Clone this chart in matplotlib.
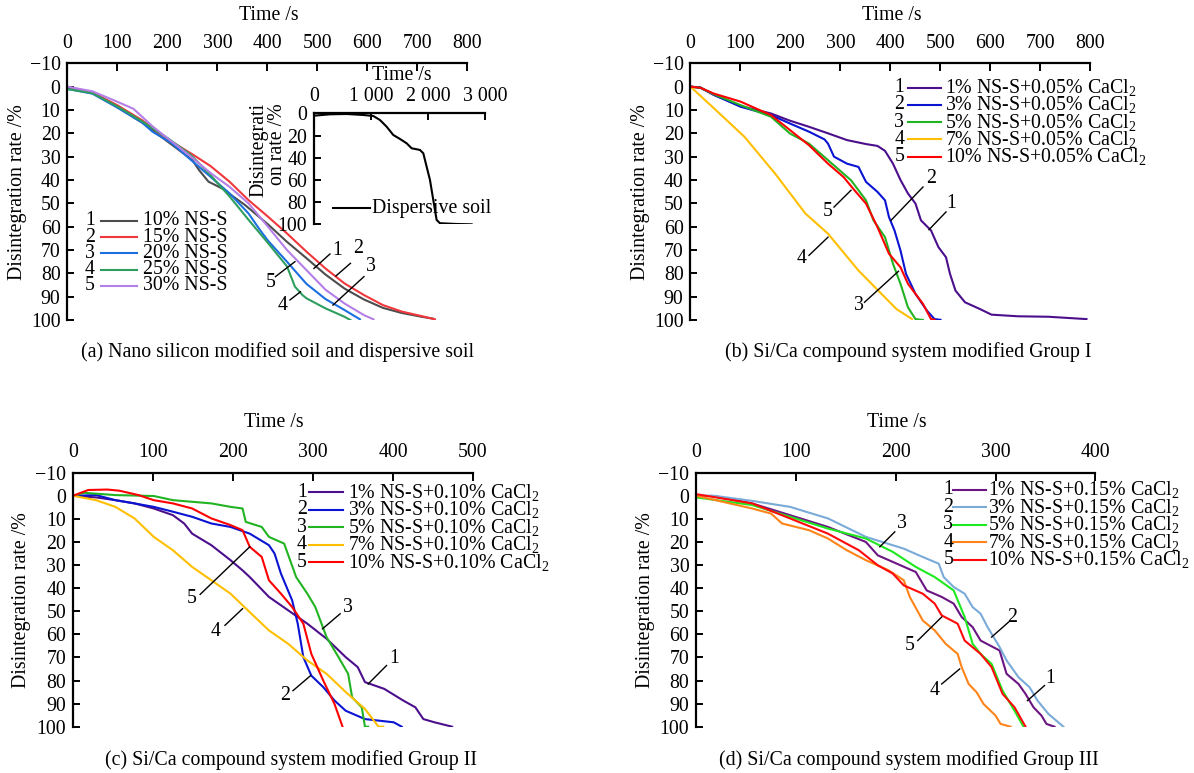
import matplotlib
matplotlib.use("Agg")
import matplotlib.pyplot as plt

plt.rcParams['font.family'] = ['Liberation Serif', 'DejaVu Serif']
plt.rcParams['mathtext.fontset'] = 'custom'
plt.rcParams['mathtext.rm'] = 'Liberation Serif'
plt.rcParams['mathtext.it'] = 'Liberation Serif:italic'
plt.rcParams['axes.unicode_minus'] = True

FS = 14.3

# ---------------- (a) nano silicon modified soil ----------------
a_labels = ["10% NS-S", "15% NS-S", "20% NS-S", "25% NS-S", "30% NS-S"]
a_colors = ["#4d4d4d", "#f0383c", "#1c6fe0", "#2e9e5e", "#b47fe6"]
a1_t = [0, 50, 100, 150, 200, 250, 263, 282, 309, 355, 401, 439, 478, 516, 554, 593, 631, 669, 708, 731]
a1_r = [0.5, 2.8, 8.8, 15.5, 23.5, 31.5, 35.7, 40.7, 43.6, 50.7, 59, 66.5, 73.5, 80.5, 86.5, 91.2, 94.8, 97, 98.6, 99.4]
a2_t = [0, 50, 100, 150, 200, 250, 286, 324, 362, 401, 439, 478, 516, 554, 593, 631, 669, 708, 735]
a2_r = [0, 2.5, 8, 14.5, 22.5, 29, 34, 40.7, 48.6, 55.7, 62.9, 70.7, 77.9, 84.3, 89.3, 93.6, 96.4, 98.3, 99.7]
a3_t = [0, 50, 100, 150, 170, 209, 247, 286, 324, 362, 385, 401, 439, 478, 516, 554, 585]
a3_r = [1, 3, 9, 15.5, 19.3, 24.3, 31.4, 38.6, 45.7, 54.3, 61.4, 66, 75, 84.5, 91, 95.7, 99.7]
a4_t = [0, 50, 100, 150, 200, 247, 286, 324, 362, 401, 439, 455, 470, 478, 516, 554, 566]
a4_r = [1, 2.8, 8.5, 15, 22, 29.3, 37.9, 47, 57, 67, 77, 85.7, 89.3, 90.7, 95, 98.6, 100]
a5_t = [0, 50, 100, 132, 170, 209, 247, 286, 324, 362, 401, 439, 478, 516, 554, 593, 612]
a5_r = [0, 2, 6.5, 9.5, 17, 23.6, 30, 37, 42.9, 50, 60, 70, 78.6, 87, 92.9, 97.9, 99.7]

# inset: dispersive soil
ds_t = [0, 275, 568, 861, 1037, 1154, 1271, 1388, 1506, 1623, 1711, 1857, 1916, 1974, 2033, 2091, 2150, 2208, 2501, 2765]
ds_r = [2.1, 0.9, 0.6, 1.5, 2.4, 6, 12, 19.5, 23.1, 27, 31.5, 33, 36, 48, 60, 78, 96, 99, 99.7, 100]

# ---------------- (b) Si/Ca group I ----------------
b_labels = ["1% NS-S+0.05% CaCl$_2$", "3% NS-S+0.05% CaCl$_2$", "5% NS-S+0.05% CaCl$_2$",
            "7% NS-S+0.05% CaCl$_2$", "10% NS-S+0.05% CaCl$_2$"]
bc_colors = ["#4b0f8c", "#0a14d2", "#22b322", "#ffbf00", "#ff0000"]
b1_t = [0, 20, 47, 100, 161, 199, 237, 275, 313, 351, 374, 389, 405, 420, 435, 450, 461, 481, 496, 511, 519, 530, 549, 579, 602, 655, 716, 792]
b1_r = [0, 0.3, 3.6, 8.3, 11.5, 14.6, 17.2, 20, 22.9, 24.6, 25.4, 27.5, 33, 40, 45.8, 50.1, 57.3, 61.6, 68.8, 73.1, 80.2, 87.4, 92.4, 95.3, 97.7, 98.4, 98.6, 99.6]
b2_t = [0, 20, 47, 100, 161, 199, 237, 268, 275, 287, 313, 336, 351, 374, 389, 397, 408, 420, 431, 450, 473, 488, 500]
b2_r = [0, 0.5, 3.5, 8.6, 12.2, 15.8, 19.3, 22.6, 24.4, 30, 33, 34.4, 40.8, 45.1, 48.7, 55.9, 61.6, 70.2, 80.2, 88.8, 96, 99.6, 99.9]
b3_t = [0, 20, 47, 100, 161, 199, 237, 275, 298, 321, 351, 366, 389, 405, 420, 435, 450, 465]
b3_r = [0, 0.5, 3.3, 7.9, 12.9, 20.1, 24.4, 31.5, 35.8, 40.1, 48.7, 57.3, 64.5, 75.9, 84.5, 94.6, 99.6, 100]
b4_t = [0, 47, 108, 169, 230, 275, 336, 382, 412, 443]
b4_r = [0, 9.3, 21.5, 37.2, 54.4, 63, 78.8, 88.8, 95.3, 99.6]
b5_t = [0, 20, 47, 100, 161, 199, 237, 275, 306, 328, 351, 374, 397, 420, 435, 465, 481, 488]
b5_r = [0, 0.5, 3, 6.4, 12.2, 18.6, 25.1, 33, 38.7, 44.4, 50.1, 60.2, 71.6, 77.4, 84.5, 93.1, 99.6, 99.9]

# ---------------- (c) Si/Ca group II ----------------
c_labels = ["1% NS-S+0.10% CaCl$_2$", "3% NS-S+0.10% CaCl$_2$", "5% NS-S+0.10% CaCl$_2$",
            "7% NS-S+0.10% CaCl$_2$", "10% NS-S+0.10% CaCl$_2$"]
c1_t = [0, 29, 53, 77, 101, 125, 139, 149, 173, 197, 212, 221, 245, 269, 293, 317, 341, 356, 365, 389, 413, 428, 438, 452, 474]
c1_r = [0, 0.7, 1.9, 3.3, 5.5, 8.4, 12, 16.4, 21.4, 27.9, 32.3, 35.2, 43.8, 49.6, 55.4, 61.9, 69.9, 74.2, 80.7, 83.6, 88.7, 91.6, 96.7, 98.1, 100]
c2_t = [0, 29, 53, 77, 101, 125, 149, 173, 197, 221, 245, 252, 260, 274, 281, 288, 298, 313, 327, 341, 365, 401, 411]
c2_r = [0, -0.3, 1.9, 3.3, 4.8, 6.9, 9.1, 12, 13.5, 16.4, 21.4, 25, 33.7, 45.3, 55.4, 69.9, 77.9, 82.9, 88.7, 93.1, 96.7, 98.1, 100]
c3_t = [0, 14, 53, 101, 125, 149, 173, 197, 212, 216, 236, 245, 264, 279, 293, 303, 317, 332, 344, 349, 361, 365, 369]
c3_r = [0, -1.3, -0.3, 0.1, 1.9, 2.6, 3.3, 4.8, 5.5, 11.3, 13.5, 17.8, 20.7, 35.2, 42.4, 48.2, 61.2, 69.9, 77.1, 87.3, 91.6, 100, 100]
c4_t = [0, 29, 53, 77, 101, 125, 149, 173, 197, 221, 245, 269, 293, 317, 341, 365, 382, 388]
c4_r = [0, 1.9, 4.8, 9.8, 17.8, 23.6, 30.8, 36.6, 42.4, 50.4, 58.3, 64.1, 71.3, 77.1, 85, 92.3, 100, 100]
c5_t = [0, 19, 43, 58, 82, 101, 125, 149, 173, 197, 212, 221, 236, 245, 260, 274, 288, 298, 313, 327, 337]
c5_r = [0, -2.5, -2.7, -2.2, -0.3, 1.9, 3.3, 5.5, 9.8, 12.7, 14.9, 22.1, 26.5, 36.6, 42.4, 48.2, 55.4, 68.5, 80.1, 90.2, 100]

# ---------------- (d) Si/Ca group III ----------------
d_labels = ["1% NS-S+0.15% CaCl$_2$", "3% NS-S+0.15% CaCl$_2$", "5% NS-S+0.15% CaCl$_2$",
            "7% NS-S+0.15% CaCl$_2$", "10% NS-S+0.15% CaCl$_2$"]
d_colors = ["#6b1582", "#7aaad8", "#1ee81e", "#ff8418", "#ff0a0a"]
d1_t = [0, 18, 56, 94, 132, 170, 182, 201, 220, 231, 246, 258, 266, 277, 285, 304, 311, 323, 330, 338, 346, 351, 359]
d1_r = [0, 0.1, 3.3, 8.4, 13.5, 20, 25.8, 29.4, 33, 41, 43.8, 46.7, 52.5, 56.9, 62.7, 67, 77.1, 81.5, 85.8, 91.6, 95.2, 98.8, 100]
d2_t = [0, 18, 56, 94, 132, 170, 208, 227, 243, 248, 258, 269, 277, 285, 292, 304, 311, 323, 334, 342, 353, 368]
d2_r = [0, 0, 2.2, 4.8, 9.8, 17.8, 22.9, 26.5, 29.4, 35.2, 39.5, 42.4, 48.2, 51.1, 56.9, 65.5, 71.3, 78.6, 82.9, 88.7, 94.5, 100]
d3_t = [0, 56, 94, 132, 170, 197, 220, 239, 258, 269, 277, 285, 296, 307, 319, 328]
d3_r = [0.7, 4, 9.1, 14.2, 18.5, 24.3, 30.8, 35.2, 41, 52.5, 64.1, 68.5, 72.8, 84.4, 93.1, 100]
d4_t = [0, 56, 75, 86, 113, 132, 151, 170, 193, 208, 214, 227, 239, 250, 262, 266, 273, 281, 288, 300, 305, 315]
d4_r = [0, 5.5, 7.7, 12, 14.9, 18.5, 23.6, 27.9, 32.3, 36.6, 43.8, 54, 58.3, 64.1, 68.5, 74.2, 81.5, 85.1, 90.2, 95.2, 98.8, 100]
d5_t = [0, 56, 94, 132, 163, 182, 197, 208, 227, 239, 246, 262, 269, 285, 296, 307, 319, 330]
d5_r = [-0.7, 3.3, 9.8, 16.4, 23.6, 30.1, 33.7, 38.8, 42.4, 46.7, 51.8, 55.4, 62.7, 68.5, 74.2, 85.8, 91.6, 100]

# curve call-outs: (number, leader start, leader end, label position) in data units
a_notes = [("1", (493, 77.9), (525, 71.7), (539, 70)), ("2", (537, 81.1), (566, 75.7), (581, 69.3)),
           ("3", (531, 93.6), (593, 81.4), (607, 77.1)), ("5", (416, 81.4), (455, 75), (406, 83.9)),
           ("4", (445, 91.4), (466, 87.9), (431, 93.6))]
b_notes = [("2", (401, 57.3), (465, 43), (481, 39.4)), ("1", (477, 61.3), (511, 53.7), (522, 50.1)),
           ("5", (287, 51.6), (321, 44.4), (274, 53.7)), ("4", (237, 72.3), (275, 64.5), (222, 73.8)),
           ("3", (348, 92.4), (416, 79.1), (336, 93.8))]
c_notes = [("5", (159, 42.7), (221, 22.1), (148, 44.6)), ("4", (190, 56.1), (212, 48.9), (178, 58.6)),
           ("3", (312, 57.6), (334, 51.1), (344, 48.2)), ("1", (369, 81.5), (392, 73.5), (401, 70.6)),
           ("2", (275, 84.4), (297, 77.9), (265, 86.5))]
d_notes = [("3", (184, 22.1), (199, 15.6), (206, 12)), ("2", (296, 61.2), (313, 54.7), (317, 52.5)),
           ("5", (222, 62.7), (246, 52.5), (214, 64.8)), ("4", (246, 81.5), (264, 75), (239, 84.4)),
           ("1", (332, 88.7), (349, 82.2), (355, 79.3))]


def style_axes(ax, xmax, xstep, xlab_y, ylab_x):
    ax.set_facecolor('none')
    ax.set_xlim(0, xmax)
    ax.set_ylim(100, -10)
    ax.xaxis.tick_top()
    ax.set_xticks(range(0, xmax + 1, xstep))
    ax.set_yticks(range(-10, 101, 10))
    for s in ('right', 'bottom'):
        ax.spines[s].set_visible(False)
    for s in ('left', 'top'):
        ax.spines[s].set_linewidth(1.6)
    ax.tick_params(axis='x', direction='in', length=5.5, width=1.4, pad=7.5,
                   labelsize=FS, top=True, bottom=False, labeltop=True, labelbottom=False)
    ax.tick_params(axis='y', direction='in', length=5, width=1.4, pad=5,
                   labelsize=FS, left=True, right=False)
    ax.text(0.503, xlab_y, "Time /s", transform=ax.transAxes, ha='center', va='center', fontsize=FS)
    ax.text(ylab_x, 0.5, "Disintegration rate /%", transform=ax.transAxes, ha='center',
            va='center', rotation=90, fontsize=FS)


def draw_series(ax, ts, rs, colors):
    for t, r, c in zip(ts, rs, colors):
        ax.plot(t, r, color=c, lw=1.5, solid_joinstyle='round')


def draw_key(ax, labels, colors, num_x, x0, x1, tx, y0, dy):
    for i, (lab, c) in enumerate(zip(labels, colors)):
        y = y0 - i * dy
        ax.text(num_x, y, str(i + 1), transform=ax.transAxes, ha='center', va='center', fontsize=FS)
        ax.plot([x0, x1], [y, y], transform=ax.transAxes, color=c, lw=1.5, clip_on=False)
        ax.text(tx, y, lab, transform=ax.transAxes, ha='left', va='center', fontsize=FS)


def draw_notes(ax, notes):
    for num, p0, p1, pl in notes:
        ax.plot([p0[0], p1[0]], [p0[1], p1[1]], color='black', lw=1.0)
        ax.text(pl[0], pl[1], num, ha='center', va='center', fontsize=FS)


fig = plt.figure(figsize=(11.94, 7.73), dpi=100)

# (a)
ax_a = fig.add_axes([0.0565, 0.586, 0.335, 0.3321])
style_axes(ax_a, 800, 100, 1.188, -0.1255)
draw_series(ax_a, [a1_t, a2_t, a3_t, a4_t, a5_t], [a1_r, a2_r, a3_r, a4_r, a5_r], a_colors)
draw_key(ax_a, a_labels, a_colors, 0.056, 0.085, 0.1745, 0.188, 0.387, 0.0636)
draw_notes(ax_a, a_notes)

ins = fig.add_axes([0.2632, 0.7098, 0.143, 0.1436])
ins.set_facecolor('none')
ins.set_xlim(0, 3000)
ins.set_ylim(100, 0)
ins.xaxis.tick_top()
ins.set_xticks([0, 1000, 2000, 3000])
ins.set_xticklabels(["0", "1 000", "2 000", "3 000"])
ins.set_yticks(range(0, 101, 20))
for s in ('right', 'bottom'):
    ins.spines[s].set_visible(False)
for s in ('left', 'top'):
    ins.spines[s].set_linewidth(1.6)
ins.tick_params(axis='x', direction='in', length=5, width=1.4, pad=5,
                labelsize=FS, top=True, bottom=False, labeltop=True, labelbottom=False)
ins.tick_params(axis='y', direction='in', length=5, width=1.4, pad=5,
                labelsize=FS, left=True, right=False)
ins.plot(ds_t, ds_r, color='black', lw=1.5)
ins.text(0.512, 1.345, "Time /s", transform=ins.transAxes, ha='center', va='center', fontsize=FS)
ins.text(-0.27, 0.669, "Disintegrati\non rate /%", transform=ins.transAxes, ha='center',
         va='center', rotation=90, fontsize=FS, multialignment='right', linespacing=0.95)
ins.plot([0.111, 0.326], [0.144, 0.144], transform=ins.transAxes, color='black', lw=1.5, clip_on=False)
ins.text(0.336, 0.144, "Dispersive soil", transform=ins.transAxes, ha='left', va='center', fontsize=FS)

# (b)
ax_b = fig.add_axes([0.5783, 0.586, 0.335, 0.3321])
style_axes(ax_b, 800, 100, 1.188, -0.125)
draw_series(ax_b, [b1_t, b2_t, b3_t, b4_t, b5_t], [b1_r, b2_r, b3_r, b4_r, b5_r], bc_colors)
draw_key(ax_b, b_labels, bc_colors, 0.522, 0.5445, 0.6263, 0.636, 0.905, 0.0672)
draw_notes(ax_b, b_notes)

# (c)
ax_c = fig.add_axes([0.0611, 0.0599, 0.335, 0.3286])
style_axes(ax_c, 500, 100, 1.198, -0.128)
draw_series(ax_c, [c1_t, c2_t, c3_t, c4_t, c5_t], [c1_r, c2_r, c3_r, c4_r, c5_r], bc_colors)
draw_key(ax_c, c_labels, bc_colors, 0.5725, 0.591, 0.676, 0.687, 0.923, 0.0689)
draw_notes(ax_c, c_notes)

# (d)
ax_d = fig.add_axes([0.5831, 0.0599, 0.3343, 0.3286])
style_axes(ax_d, 400, 100, 1.198, -0.127)
draw_series(ax_d, [d1_t, d2_t, d3_t, d4_t, d5_t], [d1_r, d2_r, d3_r, d4_r, d5_r], d_colors)
draw_key(ax_d, d_labels, d_colors, 0.6315, 0.6425, 0.726, 0.732, 0.932, 0.0689)
draw_notes(ax_d, d_notes)

# panel captions
fig.text(0.2324, 0.5446, "(a) Nano silicon modified soil and dispersive soil", ha='center', va='center', fontsize=FS)
fig.text(0.7605, 0.5446, "(b) Si/Ca compound system modified Group I", ha='center', va='center', fontsize=FS)
fig.text(0.2437, 0.0168, "(c) Si/Ca compound system modified Group II", ha='center', va='center', fontsize=FS)
fig.text(0.7613, 0.0168, "(d) Si/Ca compound system modified Group III", ha='center', va='center', fontsize=FS)

fig.savefig("out.png", dpi=100)
